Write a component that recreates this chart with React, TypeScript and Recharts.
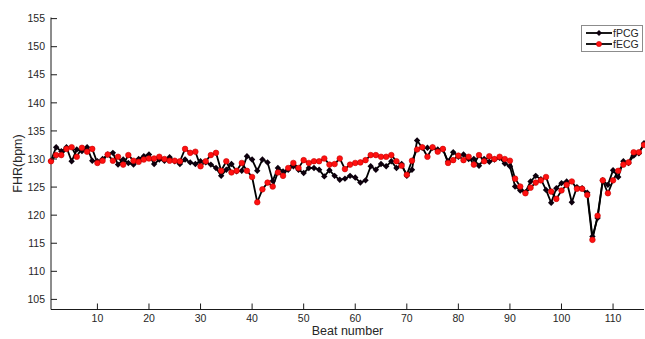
import { LineChart, Line, XAxis, YAxis } from "recharts";

const fpcg = [
  129.7, 132.1, 131.4, 132.1, 129.6, 131.7, 131.4, 132.1, 129.7, 129.6,
  130.0, 130.8, 131.1, 129.0, 129.9, 129.3, 129.0, 130.0, 130.5, 130.8,
  129.1, 129.9, 129.7, 130.3, 129.6, 129.1, 129.9, 129.4, 129.1, 129.6,
  129.4, 129.0, 128.4, 127.0, 128.1, 129.1, 127.8, 127.9, 130.5, 129.9,
  127.9, 129.9, 129.4, 126.1, 128.4, 127.8, 128.1, 128.7, 128.1, 127.5,
  128.4, 128.4, 128.1, 126.9, 128.0, 127.0, 126.3, 126.5, 127.0, 126.7,
  125.8, 126.2, 128.7, 128.1, 129.1, 128.7, 129.6, 128.4, 129.1, 127.0,
  128.1, 133.3, 132.0, 132.0, 132.0, 131.7, 131.7, 129.6, 131.2, 130.4,
  130.8, 130.0, 130.0, 128.8, 130.0, 129.5, 129.9, 130.2, 129.2, 128.7,
  125.1, 124.4, 124.1, 126.0, 127.0, 126.4, 124.5, 122.2, 124.8, 125.7,
  126.0, 122.3, 125.0, 124.8, 124.0, 116.2, 119.5, 126.2, 125.4, 128.0,
  126.8, 129.6, 129.3, 130.6, 131.0, 132.8,
];

const fecg = [
  129.6, 130.7, 130.7, 131.8, 132.1, 130.4, 132.0, 131.3, 131.8, 129.3,
  129.7, 130.8, 129.7, 130.4, 129.0, 130.7, 129.7, 129.5, 129.9, 130.1,
  130.1, 130.4, 130.0, 129.7, 129.7, 129.6, 131.8, 131.1, 131.3, 128.7,
  129.6, 130.7, 131.1, 127.9, 129.6, 127.6, 127.9, 129.3, 127.9, 126.8,
  122.3, 124.6, 125.8, 125.1, 127.6, 127.0, 128.4, 129.3, 128.4, 129.8,
  129.3, 129.6, 129.6, 130.1, 129.0, 129.1, 130.1, 128.2, 129.0, 129.3,
  129.4, 129.8, 130.7, 130.7, 130.4, 130.4, 130.7, 129.6, 128.8, 127.2,
  129.7, 131.7, 132.1, 130.4, 132.1, 131.3, 131.8, 129.3, 129.8, 130.6,
  129.8, 130.4, 129.0, 130.7, 129.6, 130.5, 130.0, 130.4, 130.0, 129.7,
  126.5, 125.1, 123.9, 124.9, 125.8, 126.2, 126.8, 124.2, 122.9, 124.4,
  125.4, 126.0, 124.7, 124.7, 123.6, 115.6, 119.9, 126.2, 123.9, 126.2,
  127.9, 129.0, 129.4, 131.2, 131.2, 132.5,
];

const xTicks = [10, 20, 30, 40, 50, 60, 70, 80, 90, 100, 110];
const yTicks = [105, 110, 115, 120, 125, 130, 135, 140, 145, 150, 155];
const seriesNames = ["fPCG", "fECG"];

const data = fpcg.map((v, i) => ({ beat: i + 1, fpcg: v, fecg: fecg[i] }));

const FONT = '"Liberation Sans", Arial, Helvetica, sans-serif';
const TXT = "#262626";
const AX = "#1a1a1a";
const TICK = 6;

const Diamond = (p: any) => {
  const { cx, cy, index } = p;
  if (cx == null || cy == null) return <g key={index} />;
  return (
    <path
      key={index}
      d={`M${cx},${cy - 3.2}L${cx + 3.2},${cy}L${cx},${cy + 3.2}L${cx - 3.2},${cy}Z`}
      fill="#0d000d"
    />
  );
};

const RedDot = (p: any) => {
  const { cx, cy, index } = p;
  if (cx == null || cy == null) return <g key={index} />;
  return <circle key={index} cx={cx} cy={cy} r={2.8} fill="#ff1010" stroke="#c80000" strokeWidth={0.6} />;
};

const BottomTick = (p: any) => {
  const { x, y, payload } = p;
  const ay = y - 5;
  return (
    <g>
      <line x1={x} x2={x} y1={ay} y2={ay - TICK} stroke={AX} />
      <text x={x} y={y} dy="0.75em" textAnchor="middle" fontSize={10.5} fontFamily={FONT} fill={TXT}>
        {payload.value}
      </text>
    </g>
  );
};

const TopTick = (p: any) => {
  const { x, y } = p;
  return <line x1={x} x2={x} y1={y} y2={y + TICK} stroke={AX} />;
};

const LeftTick = (p: any) => {
  const { x, y, payload } = p;
  const ax = x + 6;
  return (
    <g>
      <line x1={ax} x2={ax + TICK} y1={y} y2={y} stroke={AX} />
      <text x={x} y={y} dy="0.35em" textAnchor="end" fontSize={10.5} fontFamily={FONT} fill={TXT}>
        {payload.value}
      </text>
    </g>
  );
};

const RightTick = (p: any) => {
  const { x, y } = p;
  return <line x1={x} x2={x - TICK} y1={y} y2={y} stroke={AX} />;
};

const LegendBox = () => (
  <div
    style={{
      position: "absolute",
      left: 581,
      top: 25,
      width: 62,
      height: 27,
      border: "1px solid #8c8c8c",
      background: "#fff",
      boxSizing: "border-box",
      fontFamily: FONT,
      fontSize: 10.5,
      color: TXT,
      paddingTop: 2,
    }}
  >
    {seriesNames.map((name, i) => (
      <div key={name} style={{ display: "flex", alignItems: "center", height: 10.5, lineHeight: "10.5px" }}>
        <svg width={31} height={10} style={{ display: "block", flex: "none" }}>
          <line x1={4} x2={30} y1={5} y2={5} stroke="#000" strokeWidth={1.8} />
          {i === 0 ? (
            <path d="M17,2L20,5L17,8L14,5Z" fill="#0d000d" />
          ) : (
            <circle cx={17} cy={5} r={2.6} fill="#ff1010" stroke="#c80000" strokeWidth={0.6} />
          )}
        </svg>
        <span style={{ whiteSpace: "nowrap" }}>{name}</span>
      </div>
    ))}
  </div>
);

export default function App() {
  return (
    <div style={{ position: "relative", width: 645, height: 339 }}>
      <style>{"body{margin:0;background:#fff}"}</style>
      <LineChart width={645} height={339} data={data} margin={{ top: 17.5, right: 1, bottom: 0, left: 0 }}>
        <XAxis
          dataKey="beat"
          type="number"
          domain={[1, 116]}
          ticks={xTicks}
          height={29.5}
          tickSize={0}
          tickMargin={5}
          tick={BottomTick}
          axisLine={{ stroke: AX }}
          label={(props: any) => {
            const vb = props.viewBox;
            return (
              <text
                x={vb.x + vb.width / 2}
                y={vb.y + 25}
                textAnchor="middle"
                fontSize={12.5}
                fontFamily={FONT}
                fill={TXT}
              >
                Beat number
              </text>
            );
          }}
        />
        <XAxis
          xAxisId="top"
          dataKey="beat"
          type="number"
          orientation="top"
          domain={[1, 116]}
          ticks={xTicks}
          height={0}
          tickSize={0}
          tickMargin={0}
          tick={TopTick}
          axisLine={{ stroke: AX }}
        />
        <YAxis
          type="number"
          domain={[103.2, 155.2]}
          ticks={yTicks}
          width={51}
          tickSize={0}
          tickMargin={6}
          tick={LeftTick}
          axisLine={{ stroke: AX }}
          label={(props: any) => {
            const vb = props.viewBox;
            const cx = 18;
            const cy = vb.y + vb.height / 2;
            return (
              <text
                x={cx}
                y={cy}
                dy="0.35em"
                textAnchor="middle"
                transform={`rotate(-90, ${cx}, ${cy})`}
                fontSize={12.5}
                fontFamily={FONT}
                fill={TXT}
              >
                FHR(bpm)
              </text>
            );
          }}
        />
        <YAxis
          yAxisId="right"
          orientation="right"
          type="number"
          domain={[103.2, 155.2]}
          ticks={yTicks}
          width={0}
          tickSize={0}
          tickMargin={0}
          tick={RightTick}
          axisLine={{ stroke: AX }}
        />
        <Line
          dataKey="fpcg"
          name="fPCG"
          stroke="#000"
          strokeWidth={1.8}
          dot={Diamond}
          activeDot={false}
          isAnimationActive={false}
        />
        <Line
          dataKey="fecg"
          name="fECG"
          stroke="#000"
          strokeWidth={1.8}
          dot={RedDot}
          activeDot={false}
          isAnimationActive={false}
        />
      </LineChart>
      <LegendBox />
    </div>
  );
}
